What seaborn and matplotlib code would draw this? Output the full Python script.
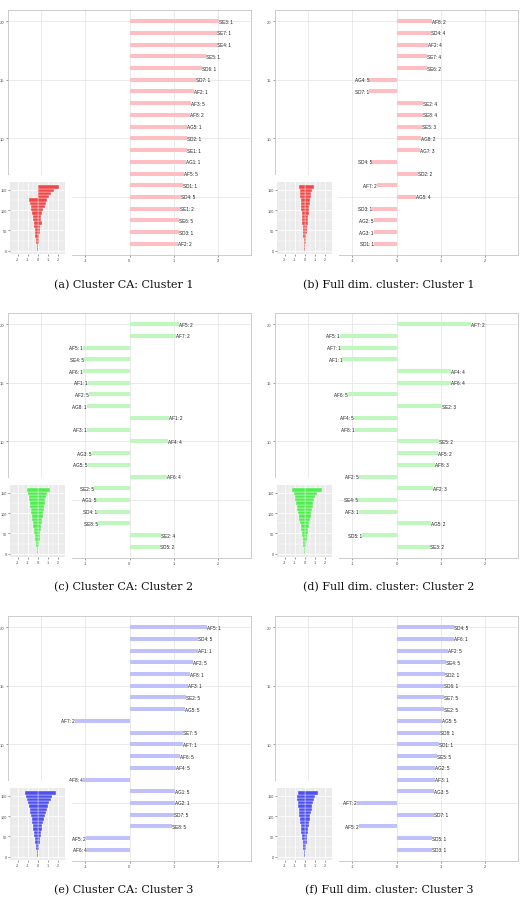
import numpy as np
import pandas as pd
import matplotlib
matplotlib.use("Agg")
import matplotlib.pyplot as plt
import seaborn as sns

# ---------------- data ----------------
ranks = list(range(20, 0, -1))

labels_a = ["SE3: 1", "SE7: 1", "SE4: 1", "SE5: 1", "SD6: 1", "SD7: 1", "AF2: 1", "AF3: 5", "AF8: 2", "AG5: 1",
            "SD2: 1", "SE1: 1", "AG1: 1", "AF5: 5", "SD1: 1", "SD4: 5", "SE1: 2", "SE6: 5", "SD3: 1", "AF2: 2"]
values_a = [2.02, 1.98, 1.97, 1.74, 1.65, 1.50, 1.45, 1.39, 1.36, 1.31,
            1.30, 1.30, 1.29, 1.23, 1.22, 1.17, 1.14, 1.13, 1.12, 1.09]

labels_b = ["AF8: 2", "SD4: 4", "AF2: 4", "SE7: 4", "SE6: 2", "AG4: 5", "SD7: 1", "SE2: 4", "SE8: 4", "SE5: 3",
            "AG8: 2", "AG7: 3", "SD4: 5", "SD2: 2", "AF7: 2", "AG5: 4", "SD3: 1", "AG2: 5", "AG3: 1", "SD1: 1"]
values_b = [0.80, 0.78, 0.71, 0.69, 0.69, -0.62, -0.63, 0.60, 0.60, 0.58,
            0.56, 0.54, -0.56, 0.49, -0.45, 0.45, -0.56, -0.52, -0.52, -0.50]

labels_c = ["AF5: 2", "AF7: 2", "AF5: 1", "SE4: 5", "AF6: 1", "AF1: 1", "AF2: 5", "AG8: 1", "AF1: 2", "AF3: 1",
            "AF4: 4", "AG3: 5", "AG5: 5", "AF6: 4", "SE2: 5", "AG1: 5", "SD4: 1", "SE8: 5", "SE2: 4", "SD5: 2"]
values_c = [1.11, 1.06, -1.06, -1.02, -1.05, -0.95, -0.92, -0.97, 0.89, -0.97,
            0.87, -0.85, -0.95, 0.85, -0.80, -0.76, -0.74, -0.72, 0.72, 0.70]

labels_d = ["AF7: 2", "AF5: 1", "AF7: 1", "AF1: 1", "AF4: 4", "AF6: 4", "AF6: 5", "SE2: 3", "AF4: 5", "AF8: 1",
            "SE5: 2", "AF5: 2", "AF8: 3", "AF2: 5", "AF2: 3", "SE4: 5", "AF3: 1", "AG5: 2", "SD5: 1", "SE3: 2"]
values_d = [1.68, -1.29, -1.27, -1.23, 1.23, 1.23, -1.10, 1.04, -0.97, -0.95,
            0.97, 0.95, 0.88, -0.86, 0.82, -0.87, -0.86, 0.77, -0.78, 0.75]

labels_e = ["AF5: 1", "SD4: 5", "AF1: 1", "AF2: 5", "AF8: 1", "AF3: 1", "SE2: 5", "AG5: 5", "AF7: 2", "SE7: 5",
            "AF7: 1", "AF6: 5", "AF4: 5", "AF8: 4", "AG1: 5", "AG2: 1", "SD7: 5", "SE8: 5", "AF5: 2", "AF6: 4"]
values_e = [1.76, 1.54, 1.54, 1.44, 1.36, 1.33, 1.27, 1.25, -1.23, 1.21,
            1.21, 1.14, 1.05, -1.05, 1.02, 1.02, 1.00, 0.97, -0.98, -0.97]

labels_f = ["SD4: 5", "AF6: 1", "AF2: 5", "SE4: 5", "SD2: 1", "SD6: 1", "SE7: 5", "SE2: 5", "AG5: 5", "SD8: 1",
            "SD1: 1", "SE5: 5", "AG2: 5", "AF3: 1", "AG3: 5", "AF7: 2", "SD7: 1", "AF5: 2", "SD5: 1", "SD3: 1"]
values_f = [1.31, 1.31, 1.17, 1.12, 1.10, 1.08, 1.08, 1.07, 1.03, 0.99,
            0.97, 0.92, 0.88, 0.87, 0.86, -0.90, 0.84, -0.86, 0.81, 0.81]

# insets: 160 ranked weights, read as 20 bands of 8 ranks (top band first)
band_centers = [156.5, 148.5, 140.5, 132.5, 124.5, 116.5, 108.5, 100.5, 92.5, 84.5,
                76.5, 68.5, 60.5, 52.5, 44.5, 36.5, 28.5, 20.5, 12.5, 4.5]
inset_a_pos = [2.10, 1.60, 1.30, 1.10, 0.95, 0.80, 0.70, 0.55, 0.45, 0.35, 0.30, 0.40, 0.25, 0.20, 0.20, 0.15, 0.15, 0.10, 0.08, 0.05]
inset_a_neg = [0.00, 0.00, 0.00, 0.00, -0.85, -0.80, -0.70, -0.62, -0.55, -0.50, -0.45, -0.40, -0.35, -0.30, -0.28, -0.22, -0.18, -0.12, -0.08, -0.04]
inset_b_pos = [0.95, 0.75, 0.68, 0.62, 0.57, 0.52, 0.48, 0.44, 0.40, 0.36, 0.33, 0.30, 0.26, 0.23, 0.20, 0.17, 0.13, 0.10, 0.07, 0.04]
inset_b_neg = [-0.60, -0.50, -0.46, -0.42, -0.40, -0.37, -0.34, -0.31, -0.28, -0.26, -0.23, -0.21, -0.19, -0.17, -0.14, -0.12, -0.10, -0.07, -0.05, -0.03]
inset_c_pos = [1.20, 0.90, 0.80, 0.75, 0.70, 0.65, 0.60, 0.55, 0.50, 0.45, 0.42, 0.38, 0.33, 0.28, 0.24, 0.20, 0.15, 0.11, 0.07, 0.04]
inset_c_neg = [-1.10, -0.95, -0.90, -0.85, -0.80, -0.75, -0.70, -0.65, -0.60, -0.55, -0.50, -0.45, -0.40, -0.35, -0.30, -0.25, -0.20, -0.14, -0.09, -0.04]
inset_d_pos = [1.70, 1.20, 1.05, 0.95, 0.88, 0.80, 0.73, 0.66, 0.60, 0.54, 0.48, 0.42, 0.36, 0.31, 0.26, 0.21, 0.16, 0.12, 0.08, 0.04]
inset_d_neg = [-1.30, -1.10, -1.00, -0.92, -0.85, -0.78, -0.71, -0.64, -0.58, -0.52, -0.46, -0.40, -0.35, -0.30, -0.25, -0.20, -0.15, -0.11, -0.07, -0.04]
inset_e_pos = [1.80, 1.45, 1.30, 1.15, 1.00, 0.90, 0.80, 0.70, 0.62, 0.55, 0.48, 0.42, 0.36, 0.32, 0.28, 0.23, 0.18, 0.13, 0.08, 0.04]
inset_e_neg = [-1.30, -1.15, -1.05, -0.95, -0.88, -0.80, -0.73, -0.66, -0.60, -0.54, -0.48, -0.42, -0.37, -0.32, -0.27, -0.22, -0.17, -0.12, -0.08, -0.04]
inset_f_pos = [1.35, 1.00, 0.90, 0.82, 0.76, 0.70, 0.64, 0.58, 0.53, 0.48, 0.43, 0.38, 0.33, 0.28, 0.24, 0.20, 0.15, 0.11, 0.07, 0.04]
inset_f_neg = [-0.65, -0.80, -0.75, -0.70, -0.65, -0.60, -0.56, -0.52, -0.48, -0.44, -0.40, -0.36, -0.32, -0.28, -0.24, -0.20, -0.16, -0.12, -0.08, -0.04]

captions = ["(a) Cluster CA: Cluster 1", "(b) Full dim. cluster: Cluster 1",
            "(c) Cluster CA: Cluster 2", "(d) Full dim. cluster: Cluster 2",
            "(e) Cluster CA: Cluster 3", "(f) Full dim. cluster: Cluster 3"]

bar_colors = ["#ffbfc2", "#ffbfc2", "#bff7bf", "#bff7bf", "#c0c0fa", "#c0c0fa"]
inset_colors = ["#f04848", "#f04848", "#50ec50", "#50ec50", "#5050ee", "#5050ee"]

panels = [
    (labels_a, values_a, inset_a_pos, inset_a_neg),
    (labels_b, values_b, inset_b_pos, inset_b_neg),
    (labels_c, values_c, inset_c_pos, inset_c_neg),
    (labels_d, values_d, inset_d_pos, inset_d_neg),
    (labels_e, values_e, inset_e_pos, inset_e_neg),
    (labels_f, values_f, inset_f_pos, inset_f_neg),
]

# ---------------- figure ----------------
sns.set_theme(style="white")
plt.rcParams['font.family'] = ['Liberation Sans', 'DejaVu Sans']

W, H = 522, 903
fig = plt.figure(figsize=(W / 100, H / 100), dpi=100)


def px_axes(x0, y0, x1, y1, **kw):
    return fig.add_axes([x0 / W, 1 - y1 / H, (x1 - x0) / W, (y1 - y0) / H], **kw)


col_x = [8, 275]
row_y = [11, 314, 617]
box_w, box_h = 243, 245
cap_x = [124, 389]
cap_y = [285, 587, 890]

for i, (labs, vals, ipos, ineg) in enumerate(panels):
    r, c = divmod(i, 2)
    x0, y0 = col_x[c], row_y[r]
    ax = px_axes(x0, y0, x0 + box_w, y0 + box_h)
    ax.set_facecolor("white")
    df = pd.DataFrame({"value": vals, "rank": ranks, "label": labs})
    sns.barplot(data=df, x="value", y="rank", orient="y", native_scale=True,
                width=0.34, color=bar_colors[i], saturation=1, errorbar=None,
                linewidth=0, ax=ax)
    for v, rk, lb in zip(vals, ranks, labs):
        ax.text(v, rk, lb, ha="left" if v >= 0 else "right", va="center",
                fontsize=3.3, color="#1a1a1a")
    ax.set_xlim(-2.75, 2.75)
    ax.set_ylim(0.05, 20.95)
    ax.set_xticks([-2, -1, 0, 1, 2])
    ax.set_xticklabels(["-2", "-1", "0", "1", "2"])
    ax.set_yticks([5, 10, 15, 20])
    ax.set_yticklabels(["5", "10", "15", "20"])
    ax.set_xlabel("")
    ax.set_ylabel("")
    ax.grid(True, color="#e6e6e6", linewidth=0.6)
    ax.set_axisbelow(True)
    for s in ax.spines.values():
        s.set_color("#c4c4c4")
        s.set_linewidth(0.6)
    ax.tick_params(axis="both", labelsize=3, colors="#4d4d4d", length=1.5,
                   width=0.4, pad=1, bottom=True, left=True)

    # inset
    wb = px_axes(x0 - 8, y0 + 165, x0 + 64, y0 + 255)
    wb.set_facecolor("white")
    wb.set_xticks([])
    wb.set_yticks([])
    for s in wb.spines.values():
        s.set_visible(False)

    ia = px_axes(x0 + 2, y0 + 172, x0 + 57, y0 + 244)
    ia.set_facecolor("#ebebeb")
    dpos = pd.DataFrame({"value": ipos, "pos": band_centers})
    dneg = pd.DataFrame({"value": ineg, "pos": band_centers})
    sns.barplot(data=dpos, x="value", y="pos", orient="y", native_scale=True,
                width=1.0, color=inset_colors[i], saturation=1, errorbar=None,
                edgecolor="#ffffff", linewidth=0.25, ax=ia)
    sns.barplot(data=dneg, x="value", y="pos", orient="y", native_scale=True,
                width=1.0, color=inset_colors[i], saturation=1, errorbar=None,
                edgecolor="#ffffff", linewidth=0.25, ax=ia)
    ia.set_xlim(-2.75, 2.75)
    ia.set_ylim(-7.5, 168.5)
    ia.set_xticks([-2, -1, 0, 1, 2])
    ia.set_xticklabels(["-2", "-1", "0", "1", "2"])
    ia.set_yticks([0, 50, 100, 150])
    ia.set_yticklabels(["0", "50", "100", "150"])
    ia.set_xticks([-1.5, -0.5, 0.5, 1.5], minor=True)
    ia.set_yticks([25, 75, 125], minor=True)
    ia.grid(True, which="major", color="white", linewidth=0.6)
    ia.grid(True, which="minor", color="white", linewidth=0.3)
    ia.set_axisbelow(True)
    ia.set_xlabel("")
    ia.set_ylabel("")
    for s in ia.spines.values():
        s.set_visible(False)
    ia.tick_params(axis="both", which="major", labelsize=2.7, colors="#4d4d4d",
                   length=1.2, width=0.4, pad=1, bottom=True, left=True)
    ia.tick_params(axis="both", which="minor", length=0)

    fig.text(cap_x[c] / W, 1 - cap_y[r] / H, captions[i], ha="center", va="center",
             family="DejaVu Serif", fontsize=8.0, color="#111111")

fig.savefig("out.png", dpi=100)
